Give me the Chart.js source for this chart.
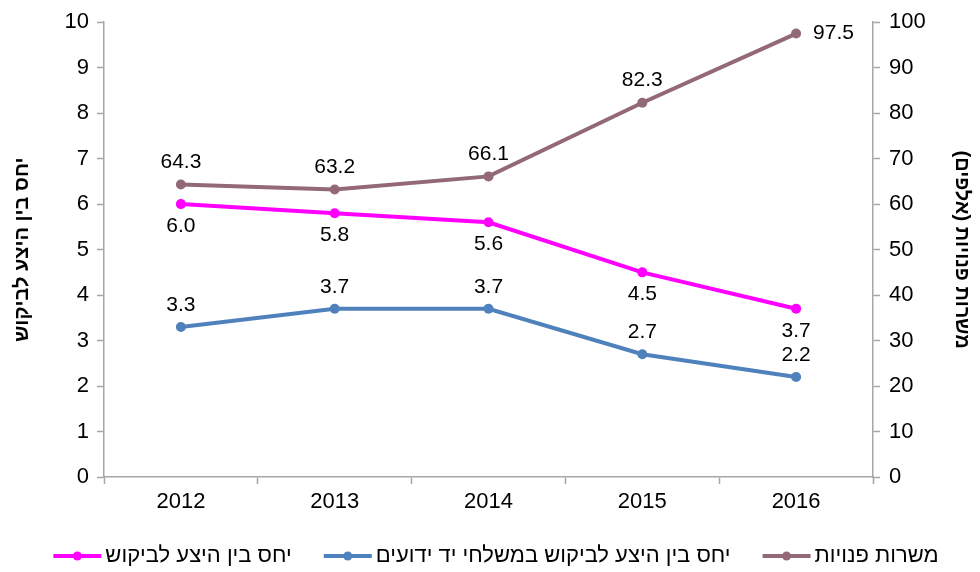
<!DOCTYPE html>
<html>
<head>
<meta charset="utf-8">
<script src="https://cdn.jsdelivr.net/npm/chart.js@4.4.1/dist/chart.umd.min.js"></script>
<style>
  html, body { margin: 0; padding: 0; background: #fff; }
  #wrap { width: 980px; height: 572px; }
</style>
</head>
<body>
<div id="wrap"><canvas id="line_chart" width="980" height="572"></canvas></div>
<script>
// data
var years = ['2012', '2013', '2014', '2015', '2016'];
var ratioAll = [6.0, 5.8, 5.6, 4.5, 3.7];          // יחס בין היצע לביקוש
var ratioKnown = [3.3, 3.7, 3.7, 2.7, 2.2];        // ... במשלחי יד ידועים
var vacancies = [64.3, 63.2, 66.1, 82.3, 97.5];    // משרות פנויות (אלפים)
var leftTicks = [0, 1, 2, 3, 4, 5, 6, 7, 8, 9, 10];
var rightTicks = [0, 10, 20, 30, 40, 50, 60, 70, 80, 90, 100];

var pink = '#FF00FF';
var blue = '#4F81BD';
var mauve = '#93697A';
var axisGrey = '#A6A6A6';
var fontName = '"Liberation Sans", Arial, sans-serif';

// where each value label sits relative to its point
var labelPos = {
    0: ['below', 'below', 'below', 'below', 'below'],
    1: ['above', 'above', 'above', 'above', 'above'],
    2: ['above', 'above', 'above', 'above', 'right']
};

var valueLabels = {
    id: 'valueLabels',
    afterDatasetsDraw: function (chart) {
        var ctx = chart.ctx;
        ctx.save();
        ctx.font = '21px ' + fontName;
        ctx.fillStyle = '#000';
        chart.data.datasets.forEach(function (ds, di) {
            var meta = chart.getDatasetMeta(di);
            meta.data.forEach(function (pt, i) {
                var txt = ds.data[i].toFixed(1);
                var pos = labelPos[di][i];
                ctx.textAlign = 'center';
                ctx.textBaseline = 'middle';
                var x = pt.x, y = pt.y;
                if (pos === 'above') y -= 22;
                else if (pos === 'below') y += 22;
                else { ctx.textAlign = 'left'; x += 17; }
                ctx.fillText(txt, x, y);
            });
        });
        ctx.restore();
    }
};

// legend: fixed height, own line with a dot in the middle (the library box is left blank)
var legendLine = 48;
var legendGap = 12;
var legendTweaks = {
    id: 'legendTweaks',
    beforeLayout: function (chart) {
        var lg = chart.legend;
        if (lg && !lg._fitWrapped) {
            var orig = lg.fit;
            lg.fit = function () {
                orig.call(this);
                this.height = 47;
            };
            lg._fitWrapped = true;
        }
    },
    afterDraw: function (chart) {
        var lg = chart.legend;
        if (!lg || !lg.legendHitBoxes) return;
        var ctx = chart.ctx;
        ctx.save();
        lg.legendHitBoxes.forEach(function (hb, i) {
            var col = chart.data.datasets[i].borderColor;
            var cy = hb.top + hb.height / 2;
            var x0 = hb.left + legendGap;
            ctx.fillStyle = col;
            ctx.fillRect(x0, cy - 2, legendLine, 4);
            ctx.beginPath();
            ctx.arc(x0 + legendLine / 2, cy, 4.5, 0, Math.PI * 2);
            ctx.fill();
        });
        ctx.restore();
    }
};

function lineSet(label, data, color, axis) {
    return {
        label: label,
        data: data,
        yAxisID: axis,
        borderColor: color,
        backgroundColor: color,
        borderWidth: 4,
        pointRadius: 5,
        pointHoverRadius: 5,
        pointBackgroundColor: color,
        pointBorderWidth: 0,
        tension: 0
    };
}

var config = {
    type: 'line',
    data: {
        labels: years,
        datasets: [
            lineSet('יחס בין היצע לביקוש', ratioAll, pink, 'yL'),
            lineSet('יחס בין היצע לביקוש במשלחי יד ידועים', ratioKnown, blue, 'yL'),
            lineSet('משרות פנויות', vacancies, mauve, 'yR')
        ]
    },
    options: {
        responsive: false,
        animation: false,
        layout: { padding: { top: 20, left: 0, right: 0, bottom: 0 } },
        plugins: {
            tooltip: { enabled: false },
            legend: {
                position: 'bottom',
                labels: {
                    boxWidth: legendGap + legendLine - 7,
                    boxHeight: 4,
                    padding: 20,
                    color: '#000',
                    font: { family: fontName, size: 22 },
                    generateLabels: function (chart) {
                        var items = Chart.defaults.plugins.legend.labels.generateLabels(chart);
                        items.forEach(function (it) {
                            it.fillStyle = 'rgba(0,0,0,0)';
                            it.strokeStyle = 'rgba(0,0,0,0)';
                            it.lineWidth = 0;
                        });
                        return items;
                    }
                }
            }
        },
        scales: {
            x: {
                offset: true,
                grid: { offset: true, drawOnChartArea: false, color: axisGrey, tickLength: 7, tickWidth: 1.5 },
                border: { color: axisGrey, width: 1.5 },
                ticks: { color: '#000', padding: 5, font: { family: fontName, size: 22 } },
                afterFit: function (s) { s.height = 48; }
            },
            yL: {
                position: 'left',
                min: 0,
                max: 10,
                afterBuildTicks: function (s) { s.ticks = leftTicks.map(function (v) { return { value: v }; }); },
                grid: { drawOnChartArea: false, color: axisGrey, tickLength: 7, tickWidth: 1.5 },
                border: { color: axisGrey, width: 1.5 },
                ticks: { color: '#000', padding: 8, font: { family: fontName, size: 22 } },
                title: {
                    display: true,
                    text: 'יחס בין היצע לביקוש',
                    color: '#000',
                    font: { family: fontName, size: 20, weight: 'bold' },
                    padding: { top: 10, bottom: 0 }
                },
                afterFit: function (s) { s.width = 104; }
            },
            yR: {
                position: 'right',
                min: 0,
                max: 100,
                afterBuildTicks: function (s) { s.ticks = rightTicks.map(function (v) { return { value: v }; }); },
                grid: { drawOnChartArea: false, color: axisGrey, tickLength: 7, tickWidth: 1.5 },
                border: { color: axisGrey, width: 1.5 },
                ticks: { color: '#000', padding: 9, font: { family: fontName, size: 22 } },
                title: {
                    display: true,
                    text: 'משרות פנויות (אלפים)\u200F',
                    color: '#000',
                    font: { family: fontName, size: 20, weight: 'bold' },
                    padding: { top: 6, bottom: 0 }
                },
                afterFit: function (s) { s.width = 107; }
            }
        }
    },
    plugins: [valueLabels, legendTweaks]
};

function chart() {
    new Chart(document.getElementById('line_chart').getContext('2d'), config);
}
chart();
</script>
</body>
</html>
